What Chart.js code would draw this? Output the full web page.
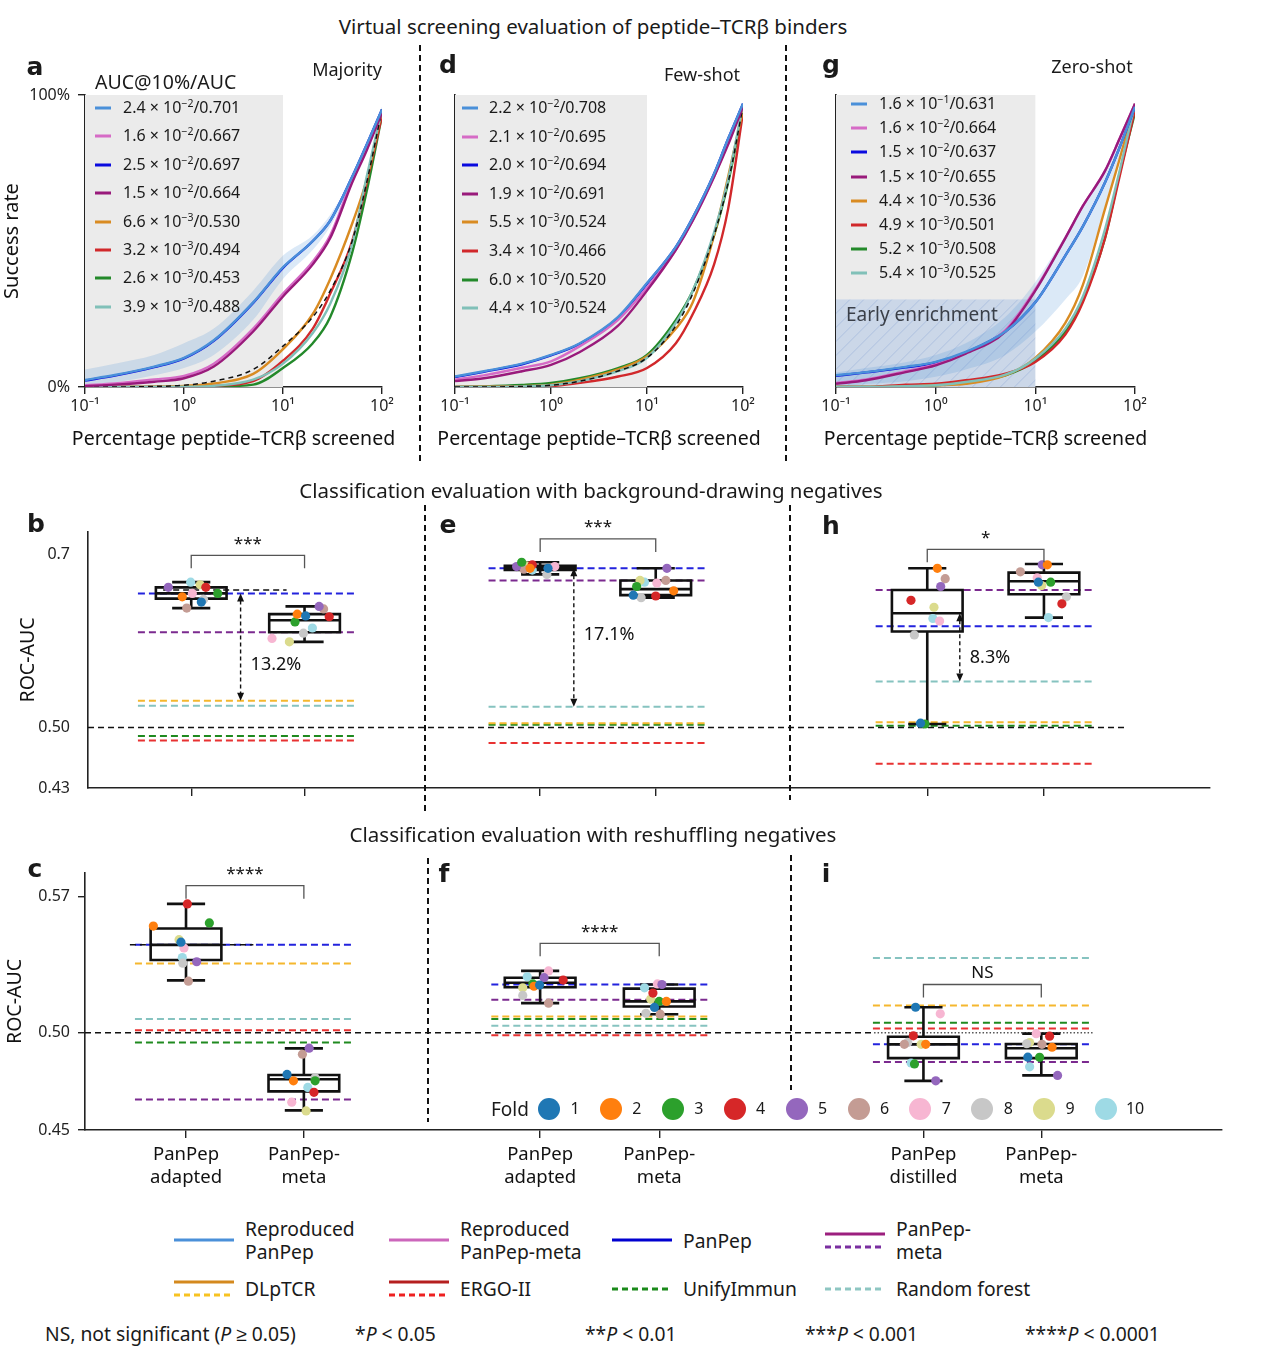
<!DOCTYPE html>
<html>
<head>
<meta charset="utf-8">
<title>PanPep evaluation</title>
<script src="https://cdn.jsdelivr.net/npm/chart.js@4.4.1/dist/chart.umd.min.js"></script>
<style>
  html, body { margin: 0; padding: 0; background: #fff; }
  body { width: 1264px; height: 1356px; position: relative; overflow: hidden;
         font-family: 'Noto Sans', sans-serif; color: #1a1a1a; }
  canvas, .t, .sep, .ln, .dot { position: absolute; }
  .t { white-space: nowrap; transform: translate(-50%, -50%); line-height: 1.2; }
  .t.l { transform: translate(0, -50%); }
  .sec { font-size: 20.5px; }
  .ax { font-size: 19.5px; color: #111; }
  .pl { font-family: 'DejaVu Sans', sans-serif; font-weight: bold; font-size: 25px; line-height: 1; }
  .sub { font-size: 18px; }
  .leg { font-size: 16px; }
  .key { font-size: 19.3px; line-height: 23px; }
  .sep { width: 1.6px; background: repeating-linear-gradient(to bottom, #111 0 6px, transparent 6px 10px); }
  .ln { height: 3px; transform: translateY(-50%); }
  .dot { width: 22px; height: 22px; border-radius: 50%; transform: translate(-50%, -50%); }
  sup { font-size: 10.5px; vertical-align: 0.6em; line-height: 0; }
</style>
</head>
<body>
<canvas id="curveA"></canvas>
<canvas id="curveD"></canvas>
<canvas id="curveG"></canvas>
<canvas id="aucBg"></canvas>
<canvas id="aucRs"></canvas>
<div id="overlay"></div>

<script>
// ==========================
// DATA : virtual screening curves (a, d, g)
// ==========================

const screenedPct = [0.1, 0.2, 0.5, 1, 2, 5, 10, 20, 30, 50, 70, 100];
const decadeTicks = [0.1, 1, 10, 100];
const decadeLabels = ['10⁻¹', '10⁰', '10¹', '10²'];

const curveMethods = ['Reproduced PanPep', 'Reproduced PanPep-meta', 'PanPep', 'PanPep-meta',
                      'DLpTCR', 'ERGO-II', 'UnifyImmun', 'Random forest'];

// a : Majority
const reproPanPepA = [0.024, 0.041, 0.07, 0.10, 0.16, 0.29, 0.41, 0.50, 0.57, 0.72, 0.83, 0.95];
const reproMetaA   = [0.006, 0.012, 0.026, 0.038, 0.08, 0.20, 0.32, 0.43, 0.52, 0.71, 0.82, 0.945];
const panPepA      = [0.022, 0.039, 0.068, 0.098, 0.158, 0.288, 0.408, 0.50, 0.57, 0.72, 0.83, 0.95];
const panPepMetaA  = [0.003, 0.008, 0.018, 0.03, 0.07, 0.19, 0.31, 0.42, 0.51, 0.70, 0.81, 0.94];
const dlptcrA      = [0, 0, 0.001, 0.004, 0.012, 0.045, 0.13, 0.25, 0.37, 0.56, 0.71, 0.95];
const ergoA        = [0, 0, 0, 0.001, 0.004, 0.02, 0.09, 0.20, 0.32, 0.50, 0.70, 0.93];
const unifyA       = [0, 0, 0, 0, 0.002, 0.008, 0.065, 0.15, 0.24, 0.46, 0.67, 0.93];
const rfA          = [0, 0, 0, 0.001, 0.004, 0.025, 0.08, 0.185, 0.285, 0.49, 0.72, 0.95];
const randomA      = [0, 0, 0.002, 0.006, 0.02, 0.06, 0.14, 0.24, 0.33, 0.50, 0.70, 0.95];
const bandHighA    = [0.06, 0.08, 0.11, 0.15, 0.20, 0.33, 0.45, 0.52, 0.59, 0.72, 0.83, 0.96];
const bandLowA     = [0.0, 0.015, 0.04, 0.065, 0.11, 0.23, 0.37, 0.47, 0.55, 0.70, 0.81, 0.94];
const aucA = [['2.4', -2, '0.701'], ['1.6', -2, '0.667'], ['2.5', -2, '0.697'], ['1.5', -2, '0.664'],
              ['6.6', -3, '0.530'], ['3.2', -3, '0.494'], ['2.6', -3, '0.453'], ['3.9', -3, '0.488']];

// d : Few-shot
const reproPanPepD = [0.036, 0.054, 0.08, 0.11, 0.15, 0.24, 0.356, 0.48, 0.58, 0.73, 0.85, 0.97];
const reproMetaD   = [0.025, 0.04, 0.066, 0.088, 0.14, 0.23, 0.34, 0.47, 0.57, 0.72, 0.84, 0.965];
const panPepD      = [0.034, 0.052, 0.078, 0.108, 0.148, 0.238, 0.354, 0.48, 0.58, 0.73, 0.85, 0.97];
const panPepMetaD  = [0.02, 0.03, 0.054, 0.076, 0.12, 0.21, 0.33, 0.47, 0.57, 0.72, 0.83, 0.96];
const dlptcrD      = [0, 0.001, 0.003, 0.008, 0.025, 0.06, 0.105, 0.20, 0.29, 0.52, 0.72, 0.95];
const ergoD        = [0, 0, 0.001, 0.003, 0.014, 0.036, 0.065, 0.15, 0.25, 0.42, 0.61, 0.94];
const unifyD       = [0, 0.002, 0.007, 0.014, 0.03, 0.065, 0.11, 0.23, 0.33, 0.52, 0.70, 0.95];
const rfD          = [0, 0, 0.002, 0.006, 0.02, 0.054, 0.10, 0.22, 0.33, 0.53, 0.71, 0.97];
const randomD      = [0, 0, 0.002, 0.006, 0.02, 0.055, 0.10, 0.21, 0.32, 0.52, 0.70, 0.96];
const aucD = [['2.2', -2, '0.708'], ['2.1', -2, '0.695'], ['2.0', -2, '0.694'], ['1.9', -2, '0.691'],
              ['5.5', -3, '0.524'], ['3.4', -3, '0.466'], ['6.0', -3, '0.520'], ['4.4', -3, '0.524']];

// g : Zero-shot
const reproPanPepG = [0.04, 0.051, 0.069, 0.086, 0.12, 0.19, 0.29, 0.45, 0.55, 0.70, 0.82, 0.96];
const reproMetaG   = [0.014, 0.026, 0.054, 0.077, 0.117, 0.195, 0.335, 0.51, 0.62, 0.74, 0.85, 0.97];
const panPepG      = [0.038, 0.05, 0.067, 0.084, 0.118, 0.19, 0.29, 0.45, 0.55, 0.70, 0.82, 0.96];
const panPepMetaG  = [0.011, 0.023, 0.051, 0.074, 0.114, 0.19, 0.33, 0.51, 0.62, 0.74, 0.85, 0.97];
const dlptcrG      = [0, 0, 0.002, 0.006, 0.011, 0.04, 0.10, 0.22, 0.35, 0.61, 0.78, 0.97];
const ergoG        = [0, 0, 0.008, 0.011, 0.023, 0.046, 0.086, 0.18, 0.29, 0.51, 0.72, 0.95];
const unifyG       = [0, 0, 0.004, 0.006, 0.017, 0.04, 0.09, 0.19, 0.30, 0.51, 0.73, 0.94];
const rfG          = [0, 0, 0.003, 0.006, 0.017, 0.042, 0.097, 0.20, 0.31, 0.54, 0.74, 0.97];
const bandHighG    = [0.05, 0.065, 0.085, 0.11, 0.15, 0.24, 0.36, 0.52, 0.62, 0.74, 0.85, 0.97];
const bandLowG     = [0.0, 0.01, 0.02, 0.035, 0.06, 0.11, 0.19, 0.30, 0.38, 0.62, 0.79, 0.95];
const earlyEnrichmentTop = 0.30;
const aucG = [['1.6', -1, '0.631'], ['1.6', -2, '0.664'], ['1.5', -2, '0.637'], ['1.5', -2, '0.655'],
              ['4.4', -3, '0.536'], ['4.9', -3, '0.501'], ['5.2', -3, '0.508'], ['5.4', -3, '0.525']];

// ==========================
// DATA : ROC-AUC box plots
// ==========================

const refMethods = ['PanPep', 'PanPep-meta', 'DLpTCR', 'ERGO-II', 'UnifyImmun', 'Random forest'];
const foldLabels = ['1', '2', '3', '4', '5', '6', '7', '8', '9', '10'];
const chanceAUC = 0.5;

// b, e, h : background-drawing negatives
const bgBoxX   = [0.92, 1.93, 4.03, 5.06, 7.48, 8.52];
const bgGroupX = [1.425, 4.55, 8.0];
const bgRefB = [0.655, 0.610, 0.531, 0.485, 0.490, 0.525];
const bgRefE = [0.684, 0.670, 0.505, 0.482, 0.503, 0.524];
const bgRefH = [0.617, 0.659, 0.506, 0.458, 0.502, 0.553];
// [lower whisker, q1, median, q3, upper whisker]
const bgStats = [
  [0.638, 0.649, 0.655, 0.662, 0.668],
  [0.599, 0.610, 0.624, 0.631, 0.640],
  [0.677, 0.682, 0.685, 0.687, 0.691],
  [0.650, 0.653, 0.660, 0.670, 0.684],
  [0.504, 0.611, 0.632, 0.659, 0.684],
  [0.627, 0.654, 0.669, 0.679, 0.689]
];
// fold 1..10 per box
const bgFoldAuc = [
  [0.645, 0.651, 0.655, 0.662, 0.662, 0.638, 0.655, 0.648, 0.665, 0.668],
  [0.629, 0.631, 0.622, 0.628, 0.640, 0.637, 0.603, 0.609, 0.599, 0.615],
  [0.684, 0.684, 0.691, 0.688, 0.686, 0.683, 0.686, 0.677, 0.687, 0.682],
  [0.653, 0.658, 0.663, 0.652, 0.684, 0.670, 0.667, 0.650, 0.670, 0.668],
  [0.505, 0.684, 0.504, 0.647, 0.663, 0.672, 0.623, 0.607, 0.639, 0.626],
  [0.668, 0.688, 0.668, 0.643, 0.688, 0.680, 0.673, 0.651, 0.664, 0.627]
];
const bgFoldX = [
  [1.01, 0.84, 1.156, 1.05, 0.716, 0.88, 0.93, 1.03, 1.0, 0.915],
  [1.94, 1.865, 1.845, 2.15, 2.06, 2.10, 1.64, 1.92, 1.795, 2.0],
  [4.10, 3.94, 3.865, 3.96, 3.82, 3.885, 4.16, 4.09, 3.91, 3.96],
  [4.86, 5.22, 4.89, 5.06, 5.16, 5.15, 5.07, 4.93, 4.92, 4.96],
  [7.42, 7.57, 7.46, 7.335, 7.60, 7.64, 7.59, 7.365, 7.54, 7.53],
  [8.47, 8.55, 8.58, 8.68, 8.505, 8.31, 8.46, 8.72, 8.50, 8.56]
];
const bgSignif     = ['***', '***', '*'];
const bgBracketY   = [0.699, 0.718, 0.706];
const bgGainX      = [1.36, 4.33, 7.77];
const bgGainTop    = [0.655, 0.684, 0.632];
const bgGainBottom = [0.531, 0.524, 0.553];
const bgGainText   = ['13.2%', '17.1%', '8.3%'];
const bgGainTextY  = [0.572, 0.607, 0.580];
const bgMedianGuide = [0.67, 1.77, 0.659];     // [x from, x to, AUC]
const bgYTicks = [0.43, 0.5, 0.7];
const bgYTickLabels = ['0.43', '0.50', '0.7'];

// c, f, i : reshuffling negatives
const rsBoxX   = [0.90, 1.95, 4.055, 5.116, 7.47, 8.52];
const rsGroupX = [1.425, 4.6, 8.0];
const rsRefC = [0.5453, 0.4657, 0.5357, 0.5014, 0.4950, 0.5072];
const rsRefF = [0.5249, 0.5171, 0.5084, 0.4988, 0.5072, 0.5037];
const rsRefI = [0.4941, 0.4850, 0.5141, 0.5022, 0.5052, 0.5385];
const rsStats = [
  [0.5270, 0.5375, 0.5453, 0.5537, 0.5664],
  [0.4601, 0.4699, 0.4761, 0.4783, 0.4920],
  [0.5153, 0.5235, 0.5258, 0.5284, 0.5319],
  [0.5096, 0.5136, 0.5162, 0.5228, 0.5249],
  [0.4753, 0.4870, 0.4941, 0.4980, 0.5132],
  [0.4781, 0.4870, 0.4921, 0.4943, 0.4996]
];
const rsFoldAuc = [
  [0.5467, 0.5550, 0.5566, 0.5664, 0.5366, 0.5266, 0.5437, 0.5359, 0.5480, 0.5388],
  [0.4786, 0.4753, 0.4753, 0.4694, 0.4921, 0.4890, 0.4643, 0.4769, 0.4598, 0.4719],
  [0.5246, 0.5240, 0.5252, 0.5272, 0.5284, 0.5153, 0.5319, 0.5193, 0.5232, 0.5289],
  [0.5131, 0.5162, 0.5162, 0.5205, 0.5249, 0.5096, 0.5252, 0.5101, 0.5174, 0.5232],
  [0.5132, 0.4941, 0.4840, 0.4985, 0.4753, 0.4941, 0.5098, 0.4951, 0.4941, 0.4845],
  [0.4875, 0.4926, 0.4874, 0.4983, 0.4781, 0.4941, 0.4996, 0.4944, 0.4950, 0.4825]
];
const rsFoldX = [
  [0.855, 0.609, 1.108, 0.912, 0.995, 0.921, 0.882, 0.871, 0.838, 0.867],
  [1.80, 1.857, 2.05, 2.04, 1.997, 1.937, 1.842, 2.05, 1.97, 1.985],
  [4.05, 4.0, 3.99, 4.26, 4.09, 4.13, 4.13, 3.90, 3.90, 3.94],
  [5.074, 5.18, 5.116, 5.06, 5.14, 5.125, 5.10, 4.997, 5.04, 4.985],
  [7.40, 7.49, 7.39, 7.38, 7.58, 7.30, 7.62, 7.33, 7.45, 7.36],
  [8.40, 8.616, 8.505, 8.594, 8.665, 8.526, 8.475, 8.39, 8.416, 8.416]
];
const rsSignif   = ['****', '****', 'NS'];
const rsBracketY = [0.5758, 0.5461, 0.5249];
const rsMedianGuide = [0.40, 1.50, 0.5453];
const rsYTicks = [0.45, 0.5, 0.57];
const rsYTickLabels = ['0.45', '0.50', '0.57'];
const rsCategories = [['PanPep', 'adapted'], ['PanPep-', 'meta'], ['PanPep', 'adapted'],
                      ['PanPep-', 'meta'], ['PanPep', 'distilled'], ['PanPep-', 'meta']];

// ==========================
// STYLE
// ==========================

const FONT = "'Noto Sans', sans-serif";
Chart.defaults.font.family = FONT;
Chart.defaults.color = '#1a1a1a';

const curveColors = ['#4a90d9', '#d66bc6', '#0a0adf', '#991a7b', '#d98b22', '#d1282b', '#23892a', '#80c0b8'];
const curveDrawOrder = [0, 3, 1, 2, 7, 4, 5, 6];        // top first
const refColors = ['#2323dd', '#7b2a8f', '#f5b72e', '#e83232', '#1f8a1f', '#86c3c0'];
const foldColors = ['#1f77b4', '#ff7f0e', '#2ca02c', '#d62728', '#9467bd',
                    '#c49c94', '#f7b6d2', '#c7c7c7', '#dbdb8d', '#9edae5'];

// ==========================
// HELPERS
// ==========================

function placeCanvas(id, box) {
    const c = document.getElementById(id);
    c.width = box[2];
    c.height = box[3];
    c.style.left = box[0] + 'px';
    c.style.top = box[1] + 'px';
    c.style.width = box[2] + 'px';
    c.style.height = box[3] + 'px';
    return c;
}

// box = canvas [left, top, width, height], area = chart area [left, top, right, bottom] (page px)
function frame(box, area) {
    return {
        padding: { left: 0, top: area[1] - box[1], right: box[0] + box[2] - area[2], bottom: 0 },
        yWidth: area[0] - box[0],
        xHeight: box[1] + box[3] - area[3]
    };
}

const toPoints = arr => screenedPct.map((x, i) => ({ x, y: arr[i] }));

function screenShade(until, earlyTop) {
    return {
        id: 'screenShade',
        beforeDatasetsDraw(chart) {
            const { ctx, scales: { x, y } } = chart;
            const x0 = x.getPixelForValue(x.min);
            const x1 = x.getPixelForValue(until);
            const yb = y.getPixelForValue(0);
            const yt = y.getPixelForValue(1);
            ctx.save();
            ctx.fillStyle = '#ebebeb';
            ctx.fillRect(x0, yt, x1 - x0, yb - yt);
            if (earlyTop) {
                const ye = y.getPixelForValue(earlyTop);
                ctx.fillStyle = 'rgba(160,188,228,0.42)';
                ctx.fillRect(x0, ye, x1 - x0, yb - ye);
                ctx.beginPath();
                ctx.rect(x0, ye, x1 - x0, yb - ye);
                ctx.clip();
                ctx.strokeStyle = 'rgba(120,155,210,0.35)';
                ctx.lineWidth = 1;
                ctx.beginPath();
                for (let k = -(yb - ye); k < x1 - x0; k += 14) {
                    ctx.moveTo(x0 + k, yb);
                    ctx.lineTo(x0 + k + (yb - ye), ye);
                }
                ctx.stroke();
            }
            ctx.restore();
        }
    };
}

function curveChart(id, box, area, series, extra) {

    const f = frame(box, area);
    const canvas = placeCanvas(id, box);
    const datasets = [];

    curveDrawOrder.forEach((m, k) => {
        datasets.push({
            data: toPoints(series[m]),
            borderColor: curveColors[m],
            borderWidth: 2.4,
            pointRadius: 0,
            cubicInterpolationMode: 'monotone',
            fill: false
        });
        if (k === 3 && extra.random) {
            datasets.push({
                data: toPoints(extra.random),
                borderColor: '#111',
                borderDash: [5, 4],
                borderWidth: 1.5,
                pointRadius: 0,
                cubicInterpolationMode: 'monotone',
                fill: false
            });
        }
    });

    if (extra.band) {
        datasets.push({
            data: toPoints(extra.band[0]), borderWidth: 0, pointRadius: 0,
            cubicInterpolationMode: 'monotone', fill: '+1',
            backgroundColor: 'rgba(74,144,217,0.2)'
        });
        datasets.push({
            data: toPoints(extra.band[1]), borderWidth: 0, pointRadius: 0,
            cubicInterpolationMode: 'monotone', fill: false
        });
    }

    return new Chart(canvas, {
        type: 'line',
        data: { datasets },
        options: {
            responsive: false,
            animation: false,
            layout: { padding: f.padding },
            plugins: { legend: { display: false }, tooltip: { enabled: false } },
            scales: {
                x: {
                    type: 'logarithmic', min: 0.1, max: 100,
                    afterBuildTicks: s => { s.ticks = decadeTicks.map(v => ({ value: v })); },
                    afterFit: s => { s.height = f.xHeight; },
                    ticks: {
                        callback: (v, i) => decadeLabels[i],
                        font: { size: 16 }, color: '#222', padding: 3,
                        maxRotation: 0, autoSkip: false
                    },
                    grid: { display: true, drawOnChartArea: false, drawTicks: true, tickLength: 7, color: '#222', lineWidth: 1.4 },
                    border: { display: true, color: '#222', width: 1.6 }
                },
                y: {
                    min: 0, max: 1,
                    afterBuildTicks: s => { s.ticks = [0, 1].map(v => ({ value: v })); },
                    afterFit: s => { s.width = f.yWidth; },
                    ticks: {
                        display: extra.yLabels,
                        callback: v => (v * 100) + '%',
                        font: { size: 16 }, color: '#222', padding: 8
                    },
                    grid: { display: extra.yLabels, drawOnChartArea: false, drawTicks: true, tickLength: 7, color: '#222', lineWidth: 1.4 },
                    border: { display: true, color: '#222', width: 1.6 },
                    title: { display: extra.yLabels, text: 'Success rate', font: { size: 20 }, color: '#111', padding: { top: 0, bottom: 0 } }
                }
            }
        },
        plugins: [screenShade(10, extra.early)]
    });
}

function foldBoxes(cfg) {
    const boxHalf = 0.315, capHalf = 0.17, legPx = 13;
    return {
        id: 'foldBoxes',
        beforeDatasetsDraw(chart) { chart.$boxesDone = false; },
        beforeDatasetDraw(chart, args) {
            if (chart.$boxesDone || !chart.data.datasets[args.index].isFold) return;
            chart.$boxesDone = true;
            const { ctx, scales: { x, y } } = chart;
            ctx.save();
            ctx.strokeStyle = '#111';
            ctx.lineWidth = 2.6;
            cfg.boxX.forEach((c, j) => {
                const [lo, q1, med, q3, hi] = cfg.stats[j];
                const xl = x.getPixelForValue(c - boxHalf), xr = x.getPixelForValue(c + boxHalf);
                const wl = x.getPixelForValue(c - capHalf), wr = x.getPixelForValue(c + capHalf);
                const xc = x.getPixelForValue(c);
                const p = v => y.getPixelForValue(v);
                ctx.beginPath();
                ctx.rect(xl, p(q3), xr - xl, p(q1) - p(q3));
                ctx.moveTo(xl, p(med)); ctx.lineTo(xr, p(med));
                ctx.moveTo(xc, p(q3)); ctx.lineTo(xc, p(hi));
                ctx.moveTo(xc, p(q1)); ctx.lineTo(xc, p(lo));
                ctx.moveTo(wl, p(hi)); ctx.lineTo(wr, p(hi));
                ctx.moveTo(wl, p(lo)); ctx.lineTo(wr, p(lo));
                ctx.stroke();
            });
            ctx.restore();
        },
        afterDatasetsDraw(chart) {
            const { ctx, scales: { x, y } } = chart;
            ctx.save();
            // significance brackets
            cfg.bracketY.forEach((by, g) => {
                const x1 = x.getPixelForValue(cfg.boxX[2 * g]);
                const x2 = x.getPixelForValue(cfg.boxX[2 * g + 1]);
                const yy = y.getPixelForValue(by);
                ctx.strokeStyle = '#555';
                ctx.lineWidth = 1.3;
                ctx.setLineDash([]);
                ctx.beginPath();
                ctx.moveTo(x1, yy + legPx); ctx.lineTo(x1, yy);
                ctx.lineTo(x2, yy); ctx.lineTo(x2, yy + legPx);
                ctx.stroke();
                ctx.fillStyle = '#111';
                ctx.font = "17px " + FONT;
                ctx.textAlign = 'center';
                ctx.textBaseline = 'bottom';
                ctx.fillText(cfg.signif[g], (x1 + x2) / 2, yy - 3);
            });
            // improvement arrows
            (cfg.gainX || []).forEach((gx, g) => {
                const xx = x.getPixelForValue(gx);
                const yt = y.getPixelForValue(cfg.gainTop[g]);
                const yb = y.getPixelForValue(cfg.gainBottom[g]);
                ctx.strokeStyle = '#111';
                ctx.fillStyle = '#111';
                ctx.lineWidth = 1.4;
                ctx.setLineDash([4, 3]);
                ctx.beginPath();
                ctx.moveTo(xx, yt + 7); ctx.lineTo(xx, yb - 7);
                ctx.stroke();
                ctx.setLineDash([]);
                ctx.beginPath();
                ctx.moveTo(xx, yt); ctx.lineTo(xx - 3.5, yt + 8); ctx.lineTo(xx + 3.5, yt + 8); ctx.closePath();
                ctx.moveTo(xx, yb); ctx.lineTo(xx - 3.5, yb - 8); ctx.lineTo(xx + 3.5, yb - 8); ctx.closePath();
                ctx.fill();
                ctx.font = "18px " + FONT;
                ctx.textAlign = 'left';
                ctx.textBaseline = 'middle';
                ctx.fillText(cfg.gainText[g], xx + 10, y.getPixelForValue(cfg.gainTextY[g]));
            });
            ctx.restore();
        }
    };
}

function aucChart(id, box, area, cfg) {

    const f = frame(box, area);
    const canvas = placeCanvas(id, box);
    const datasets = [];

    foldColors.forEach((col, k) => {
        datasets.push({
            isFold: true,
            showLine: false,
            data: cfg.boxX.map((_, j) => ({ x: cfg.foldX[j][k], y: cfg.foldAuc[j][k] })),
            pointRadius: 4.6,
            pointBackgroundColor: col,
            pointBorderWidth: 0
        });
    });

    // black dashed extension of the first median towards the arrow
    datasets.push({
        data: [{ x: cfg.guide[0], y: cfg.guide[2] }, { x: cfg.guide[1], y: cfg.guide[2] }],
        borderColor: '#111',
        borderDash: [6, 4],
        borderWidth: 1.5,
        pointRadius: 0
    });

    cfg.chance.forEach(seg => {
        datasets.push({
            data: [{ x: seg[0], y: chanceAUC }, { x: seg[1], y: chanceAUC }],
            borderColor: seg[2] ? '#555' : '#111',
            borderDash: seg[2] ? [1.5, 2] : [6, 4],
            borderWidth: 1.5,
            pointRadius: 0
        });
    });

    cfg.groupX.forEach((c, g) => {
        cfg.refs[g].forEach((v, m) => {
            datasets.push({
                data: [{ x: c - 0.98, y: v }, { x: c + 0.98, y: v }],
                borderColor: refColors[m],
                borderDash: [7, 4],
                borderWidth: 2,
                pointRadius: 0
            });
        });
    });

    return new Chart(canvas, {
        type: 'line',
        data: { datasets },
        options: {
            responsive: false,
            animation: false,
            layout: { padding: f.padding },
            plugins: { legend: { display: false }, tooltip: { enabled: false } },
            scales: {
                x: {
                    type: 'linear', min: 0, max: cfg.xMax,
                    afterBuildTicks: s => { s.ticks = cfg.boxX.map(v => ({ value: v })); },
                    afterFit: s => { s.height = f.xHeight; },
                    ticks: {
                        callback: (v, i) => cfg.categories ? cfg.categories[i] : '',
                        font: { size: 18.5 }, color: '#111', padding: 6,
                        maxRotation: 0, autoSkip: false
                    },
                    grid: { display: true, drawOnChartArea: false, drawTicks: true, tickLength: 8, color: '#222', lineWidth: 1.4 },
                    border: { display: true, color: '#222', width: 1.6 }
                },
                y: {
                    type: 'linear', min: cfg.yMin, max: cfg.yMax,
                    afterBuildTicks: s => { s.ticks = cfg.yTicks.map(v => ({ value: v })); },
                    afterFit: s => { s.width = f.yWidth; },
                    ticks: {
                        callback: (v, i) => cfg.yTickLabels[i],
                        font: { size: 16 }, color: '#222', padding: cfg.yPad
                    },
                    grid: { display: true, drawOnChartArea: false, drawTicks: cfg.yTickLen > 0, tickLength: cfg.yTickLen, color: '#222', lineWidth: 1.4 },
                    border: { display: true, color: '#222', width: 1.6 },
                    title: { display: true, text: 'ROC-AUC', font: { size: 19.5 }, color: '#111', padding: { top: cfg.titlePad, bottom: 0 } }
                }
            }
        },
        plugins: [foldBoxes(cfg)]
    });
}

// ==========================
// CHARTS
// ==========================

const areaA = [85, 95, 382, 387];
const areaD = [455, 95, 743, 387];
const areaG = [836, 95, 1135, 387];

curveChart('curveA', [0, 40, 412, 410], areaA,
    [reproPanPepA, reproMetaA, panPepA, panPepMetaA, dlptcrA, ergoA, unifyA, rfA],
    { random: randomA, band: [bandHighA, bandLowA], yLabels: true });

curveChart('curveD', [422, 40, 360, 410], areaD,
    [reproPanPepD, reproMetaD, panPepD, panPepMetaD, dlptcrD, ergoD, unifyD, rfD],
    { random: randomD, yLabels: false });

curveChart('curveG', [790, 40, 380, 410], areaG,
    [reproPanPepG, reproMetaG, panPepG, panPepMetaG, dlptcrG, ergoG, unifyG, rfG],
    { band: [bandHighG, bandLowG], early: earlyEnrichmentTop, yLabels: false });

aucChart('aucBg', [0, 500, 1264, 322], [88, 532, 1210, 788], {
    boxX: bgBoxX, groupX: bgGroupX, refs: [bgRefB, bgRefE, bgRefH],
    stats: bgStats, foldAuc: bgFoldAuc, foldX: bgFoldX,
    signif: bgSignif, bracketY: bgBracketY, guide: bgMedianGuide,
    gainX: bgGainX, gainTop: bgGainTop, gainBottom: bgGainBottom, gainText: bgGainText, gainTextY: bgGainTextY,
    chance: [[0, 9.24, false]],
    xMax: 10.0, yMin: 0.43, yMax: 0.726,
    yTicks: bgYTicks, yTickLabels: bgYTickLabels, yTickLen: 0, yPad: 18, titlePad: 17,
    categories: null
});

aucChart('aucRs', [0, 850, 1264, 350], [85, 873, 1222, 1130], {
    boxX: rsBoxX, groupX: rsGroupX, refs: [rsRefC, rsRefF, rsRefI],
    stats: rsStats, foldAuc: rsFoldAuc, foldX: rsFoldX,
    signif: rsSignif, bracketY: rsBracketY, guide: rsMedianGuide,
    chance: [[0, 7.03, false], [7.03, 8.98, true]],
    xMax: 10.13, yMin: 0.45, yMax: 0.5823,
    yTicks: rsYTicks, yTickLabels: rsYTickLabels, yTickLen: 7, yPad: 8, titlePad: 4,
    categories: rsCategories
});

// ==========================
// TEXT / LEGENDS (HTML)
// ==========================

const overlay = document.getElementById('overlay');

function addText(html, x, y, cls, left) {
    const d = document.createElement('div');
    d.className = 't ' + cls + (left ? ' l' : '');
    d.style.left = x + 'px';
    d.style.top = y + 'px';
    d.innerHTML = html;
    overlay.appendChild(d);
    return d;
}

function addLine(x1, x2, y, color, dashed) {
    const d = document.createElement('div');
    d.className = 'ln';
    d.style.left = x1 + 'px';
    d.style.width = (x2 - x1) + 'px';
    d.style.top = y + 'px';
    d.style.background = dashed
        ? `repeating-linear-gradient(to right, ${color} 0 6px, transparent 6px 10px)`
        : color;
    overlay.appendChild(d);
}

function addSep(x, y1, y2) {
    const d = document.createElement('div');
    d.className = 'sep';
    d.style.left = x + 'px';
    d.style.top = y1 + 'px';
    d.style.height = (y2 - y1) + 'px';
    overlay.appendChild(d);
}

// section titles
addText('Virtual screening evaluation of peptide–TCRβ binders', 593, 26, 'sec');
addText('Classification evaluation with background-drawing negatives', 591, 490, 'sec');
addText('Classification evaluation with reshuffling negatives', 593, 834, 'sec');

// x-axis titles of the screening panels (wider than the plot area, so kept as page text)
[areaA, areaD, areaG].forEach(a =>
    addText('Percentage peptide–TCRβ screened', (a[0] + a[2]) / 2, 438, 'ax'));

// panel letters
[['a', 35, 66], ['d', 448, 64], ['g', 831, 64], ['b', 36, 523], ['e', 448, 524],
 ['h', 831, 525], ['c', 35, 868], ['f', 444, 873], ['i', 826, 873]]
    .forEach(p => addText(p[0], p[1], p[2], 'pl'));

// panel subtitles
addText('Majority', 347, 70, 'sub');
addText('Few-shot', 702, 75, 'sub');
addText('Zero-shot', 1092, 67, 'sub');
addText('AUC@10%/AUC', 95, 82, 'sub', true).style.fontSize = '19.5px';
const early = addText('Early enrichment', 846, 314, 'sub', true);
early.style.color = '#3a3f48';
early.style.fontSize = '19px';

// curve legends
function curveLegend(values, lineX, textX, y0, step) {
    values.forEach((v, i) => {
        const y = y0 + i * step;
        addLine(lineX, lineX + 16, y, curveColors[i], false);
        addText(`${v[0]} × 10<sup>−${-v[1]}</sup>/${v[2]}`, textX, y, 'leg', true);
    });
}
curveLegend(aucA, 95, 123, 108, 28.4);
curveLegend(aucD, 462, 489, 108, 28.6);
curveLegend(aucG, 851, 879, 104, 24.2);

// dashed panel separators
addSep(419, 45, 465); addSep(785, 45, 465);
addSep(424, 505, 815); addSep(789, 505, 800);
addSep(427, 858, 1122); addSep(790, 855, 1090);

// fold legend
addText('Fold', 491, 1109, 'sub', true).style.fontSize = '19px';
foldLabels.forEach((lab, k) => {
    const cx = 549 + k * 61.9;
    const d = document.createElement('div');
    d.className = 'dot';
    d.style.left = cx + 'px';
    d.style.top = '1109px';
    d.style.background = foldColors[k];
    overlay.appendChild(d);
    addText(lab, cx + 26 + (k === 9 ? 3 : 0), 1109, 'leg');
});

// method key
const keyRows = [
    { x: 174, y: 1240, text: 'Reproduced<br>PanPep', lines: [[0, '#4a90d9', false]] },
    { x: 389, y: 1240, text: 'Reproduced<br>PanPep-meta', lines: [[0, '#cc66bb', false]] },
    { x: 612, y: 1240, text: 'PanPep', lines: [[0, '#0000d0', false]] },
    { x: 825, y: 1240, text: 'PanPep-<br>meta', lines: [[-6, '#9c1f7e', false], [7, '#7a2fa0', true]] },
    { x: 174, y: 1288, text: 'DLpTCR', lines: [[-6, '#d4891e', false], [7, '#f7c221', true]] },
    { x: 389, y: 1288, text: 'ERGO-II', lines: [[-6, '#b51f1f', false], [7, '#ee2020', true]] },
    { x: 612, y: 1288, text: 'UnifyImmun', lines: [[1, '#1b8a1b', true]] },
    { x: 825, y: 1288, text: 'Random forest', lines: [[1, '#8ec6c2', true]] }
];
keyRows.forEach(k => {
    k.lines.forEach(l => addLine(k.x, k.x + 60, k.y + l[0], l[1], l[2]));
    addText(k.text, k.x + 71, k.y, 'key', true);
});

// significance key
addText('NS, not significant (<i>P</i> ≥ 0.05)', 45, 1333, 'key', true);
addText('*<i>P</i> &lt; 0.05', 355, 1333, 'key', true);
addText('**<i>P</i> &lt; 0.01', 585, 1333, 'key', true);
addText('***<i>P</i> &lt; 0.001', 805, 1333, 'key', true);
addText('****<i>P</i> &lt; 0.0001', 1025, 1333, 'key', true);
</script>
</body>
</html>
